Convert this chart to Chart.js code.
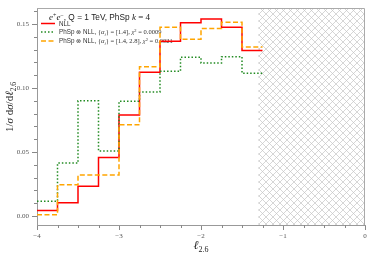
<!DOCTYPE html>
<html>
<head>
<meta charset="utf-8">
<script src="https://cdn.jsdelivr.net/npm/chart.js@4.4.0/dist/chart.umd.min.js"></script>
<style>
  html, body { margin: 0; padding: 0; background: #fff; }
  canvas { display: block; }
</style>
</head>
<body>
<canvas id="histChart" width="374" height="256"></canvas>
<script>
// --- data ---
const binEdges = [-4, -3.75, -3.5, -3.25, -3, -2.75, -2.5, -2.25, -2, -1.75, -1.5, -1.25];
const nllValues = [0.0043, 0.0104, 0.0232, 0.0458, 0.0789, 0.1123, 0.1365, 0.1510, 0.1539, 0.1474, 0.1294];
const phspOneValues = [0.0116, 0.0414, 0.0901, 0.0508, 0.0896, 0.0969, 0.1130, 0.1240, 0.1195, 0.1245, 0.1115];
const phspTwoValues = [0.0010, 0.0245, 0.0320, 0.0320, 0.0713, 0.1166, 0.1474, 0.1380, 0.1464, 0.1513, 0.1320];
const xTicks = [-4, -3, -2, -1, 0];
const yTicks = [0, 0.05, 0.10, 0.15];
const hatchFrom = -1.3;

const serif = '"Liberation Serif", "Times New Roman", serif';
const sans = '"Liberation Sans", Arial, sans-serif';

// histogram: one point per bin edge, last bin value repeated at the closing edge
function toSteps(values) {
    return binEdges.map((x, i) => ({ x: x, y: values[Math.min(i, values.length - 1)] }));
}

function runsWidth(ctx, runs) {
    let w = 0;
    runs.forEach(r => { ctx.font = r.f; w += ctx.measureText(r.t).width; });
    return w;
}

function drawRuns(ctx, x, y, runs) {
    runs.forEach(r => {
        ctx.font = r.f;
        ctx.fillText(r.t, x, y + (r.dy || 0));
        x += ctx.measureText(r.t).width;
    });
}

function makeHatch() {
    const c = document.createElement('canvas');
    c.width = 7; c.height = 7;
    const g = c.getContext('2d');
    g.strokeStyle = '#c4c4c4';
    g.lineWidth = 0.7;
    g.beginPath();
    g.moveTo(0, 0); g.lineTo(7, 7);
    g.moveTo(0, 7); g.lineTo(7, 0);
    g.stroke();
    return c;
}

function entryRuns(params, chi) {
    const s = 6.3, m = 6.5;
    return [
        { t: 'PhSp ⊗ NLL, ', f: s + 'px ' + sans },
        { t: '{', f: m + 'px ' + serif },
        { t: 'α', f: 'italic ' + m + 'px ' + serif },
        { t: 'i', f: 'italic 4.5px ' + serif, dy: 1.5 },
        { t: '} = [' + params + '], ', f: m + 'px ' + serif },
        { t: 'χ', f: 'italic ' + m + 'px ' + serif },
        { t: '2', f: '4.5px ' + serif, dy: -2.5 },
        { t: ' = ' + chi, f: m + 'px ' + serif }
    ];
}

const decorPlugin = {
    id: 'decor',
    beforeDatasetsDraw(chart) {
        const { ctx, chartArea: a, scales: { x } } = chart;
        ctx.save();
        // excluded region
        const hx = x.getPixelForValue(hatchFrom);
        ctx.fillStyle = ctx.createPattern(makeHatch(), 'repeat');
        ctx.fillRect(hx, a.top, x.getPixelForValue(0) - hx, a.bottom - a.top);

        // legend
        ctx.fillStyle = '#222';
        ctx.textBaseline = 'alphabetic';
        drawRuns(ctx, 49, 20, [
            { t: 'e', f: 'italic 9px ' + serif },
            { t: '+', f: '6px ' + serif, dy: -3.5 },
            { t: 'e', f: 'italic 9px ' + serif },
            { t: '−', f: '6px ' + serif, dy: -3.5 },
            { t: ', Q = 1 TeV, PhSp ', f: '8.3px ' + sans },
            { t: 'k', f: 'italic 9px ' + serif },
            { t: ' = 4', f: '9px ' + serif }
        ]);
        const entries = [
            { y: 23.5, color: '#ff0000', dash: [], runs: [{ t: 'NLL', f: '6.3px ' + sans }] },
            { y: 32, color: '#228b22', dash: [1.5, 2], runs: entryRuns('1.4', '0.0009') },
            { y: 41, color: '#ffa500', dash: [5, 2.5], runs: entryRuns('1.4, 2.8', '0.0021') }
        ];
        entries.forEach(e => {
            ctx.strokeStyle = e.color;
            ctx.lineWidth = 1.5;
            ctx.setLineDash(e.dash);
            ctx.beginPath();
            ctx.moveTo(41, e.y);
            ctx.lineTo(55, e.y);
            ctx.stroke();
            ctx.setLineDash([]);
            ctx.fillStyle = '#333';
            drawRuns(ctx, 59, e.y + 2, e.runs);
        });
        ctx.restore();
    },
    afterDraw(chart) {
        const { ctx, chartArea: a, scales: { x, y } } = chart;
        ctx.save();
        // top and right frame
        ctx.strokeStyle = '#aaa';
        ctx.lineWidth = 1;
        ctx.beginPath();
        ctx.moveTo(a.left, a.top + 0.5);
        ctx.lineTo(a.right - 0.5, a.top + 0.5);
        ctx.lineTo(a.right - 0.5, a.bottom);
        ctx.stroke();

        // minor ticks
        ctx.strokeStyle = '#888';
        ctx.beginPath();
        for (let i = 0; i <= 16; i++) {
            if (i % 4 === 0) continue;
            const px = Math.round(x.getPixelForValue(-4 + i * 0.25)) + 0.5;
            ctx.moveTo(px, a.bottom);
            ctx.lineTo(px, a.bottom + 3);
        }
        for (let i = 0; i <= 16; i++) {
            if (i % 5 === 0) continue;
            const py = Math.round(y.getPixelForValue(i * 0.01)) + 0.5;
            ctx.moveTo(a.left - 3, py);
            ctx.lineTo(a.left, py);
        }
        ctx.stroke();

        // axis titles
        ctx.fillStyle = '#222';
        const xRuns = [
            { t: 'ℓ', f: 'italic 12px ' + serif },
            { t: '2.6', f: '8px ' + serif, dy: 3 }
        ];
        const xc = x.getPixelForValue(-2);
        drawRuns(ctx, xc - runsWidth(ctx, xRuns) / 2, 249, xRuns);

        const yRuns = [
            { t: '1/', f: '11px ' + serif },
            { t: 'σ', f: 'italic 11px ' + serif },
            { t: ' d', f: '11px ' + serif },
            { t: 'σ', f: 'italic 11px ' + serif },
            { t: '/d', f: '11px ' + serif },
            { t: 'ℓ', f: 'italic 11px ' + serif },
            { t: '2.6', f: '7.5px ' + serif, dy: 3 }
        ];
        ctx.translate(12.5, 107);
        ctx.rotate(-Math.PI / 2);
        drawRuns(ctx, -runsWidth(ctx, yRuns) / 2, 0, yRuns);
        ctx.restore();
    }
};

const lineStyle = { pointRadius: 0, borderWidth: 1.5, fill: false, stepped: 'before' };

new Chart(document.getElementById('histChart').getContext('2d'), {
    type: 'line',
    data: {
        datasets: [
            Object.assign({ label: 'NLL', data: toSteps(nllValues), borderColor: '#ff0000', order: 2 }, lineStyle),
            Object.assign({ label: 'PhSp ⊗ NLL [1.4]', data: toSteps(phspOneValues), borderColor: '#228b22', borderDash: [1.5, 2], order: 1 }, lineStyle),
            Object.assign({ label: 'PhSp ⊗ NLL [1.4, 2.8]', data: toSteps(phspTwoValues), borderColor: '#ffa500', borderDash: [5, 2.5], order: 0 }, lineStyle)
        ]
    },
    options: {
        responsive: false,
        animation: false,
        layout: { padding: { top: 8, right: 9, left: 0, bottom: 0 } },
        plugins: {
            legend: { display: false },
            tooltip: { enabled: false }
        },
        scales: {
            x: {
                type: 'linear',
                min: -4,
                max: 0,
                afterBuildTicks: s => { s.ticks = xTicks.map(v => ({ value: v })); },
                afterFit: s => { s.height = 31; },
                grid: { drawOnChartArea: false, tickLength: 5, tickColor: '#888' },
                border: { color: '#999' },
                ticks: {
                    autoSkip: false,
                    maxRotation: 0,
                    padding: 2,
                    color: '#555',
                    font: { family: serif, size: 7 },
                    callback: v => v < 0 ? '−' + Math.abs(v) : String(v)
                }
            },
            y: {
                type: 'linear',
                min: -0.007,
                max: 0.1625,
                afterBuildTicks: s => { s.ticks = yTicks.map(v => ({ value: v })); },
                afterFit: s => { s.width = 37; },
                grid: { drawOnChartArea: false, tickLength: 5, tickColor: '#888' },
                border: { color: '#999' },
                ticks: {
                    padding: 3,
                    color: '#555',
                    font: { family: serif, size: 7 },
                    callback: v => v.toFixed(2)
                }
            }
        }
    },
    plugins: [decorPlugin]
});
</script>
</body>
</html>
